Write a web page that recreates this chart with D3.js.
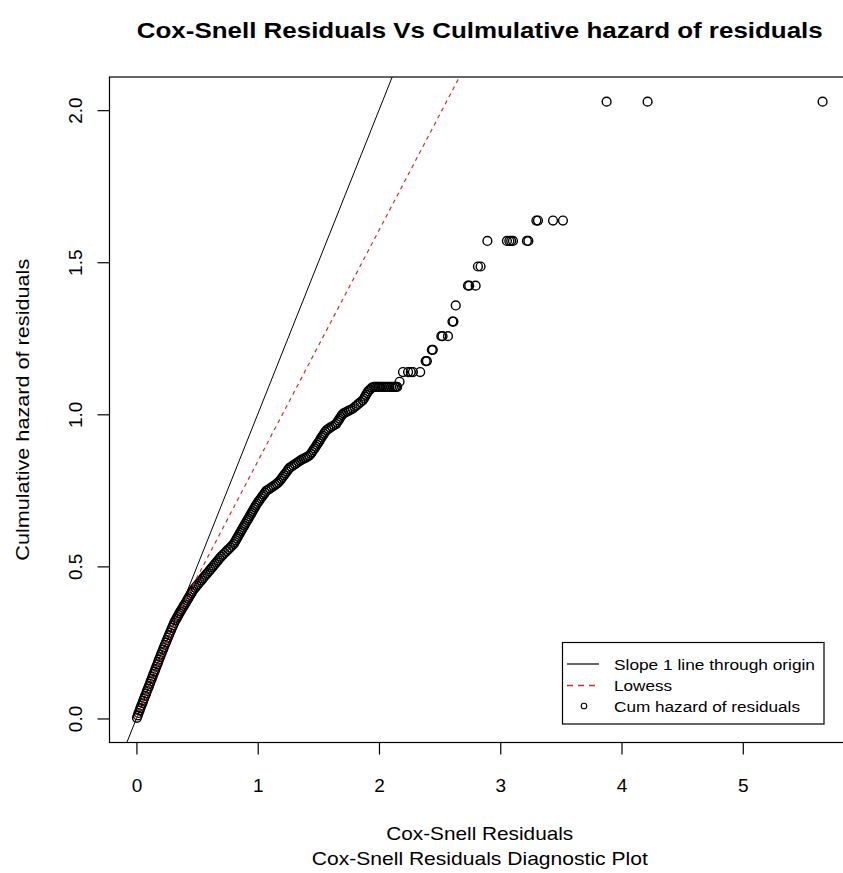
<!DOCTYPE html>
<html>
<head>
<meta charset="utf-8">
<script src="https://cdn.jsdelivr.net/npm/d3@7"></script>
<style>
  body { margin: 0; background: #fff; }
  text { font-family: "Liberation Sans", Arial, sans-serif; fill: #000; }
</style>
</head>
<body>
<div id="chart"></div>
<script>
// DATA
var coxSnell = [
  0.004,0.011,0.017,0.026,0.032,0.040,0.049,0.055,0.063,0.071,
  0.080,0.086,0.094,0.103,0.110,0.117,0.126,0.133,0.140,0.149,
  0.156,0.163,0.172,0.179,0.186,0.195,0.202,0.210,0.219,0.226,
  0.234,0.243,0.251,0.259,0.268,0.276,0.285,0.293,0.302,0.311,
  0.320,
  0.330,0.338,0.346,0.354,0.363,0.372,0.381,0.390,0.399,0.408,
  0.417,0.426,0.435,0.444,0.453,0.462,0.472,0.485,0.497,0.509,
  0.522,0.535,0.547,0.559,0.572,0.585,0.598,0.610,0.623,0.635,
  0.648,0.660,0.673,0.685,0.698,0.713,0.728,0.743,0.758,0.773,
  0.788,0.802,0.811,0.820,0.828,0.837,0.845,0.854,0.862,0.871,
  0.880,0.889,0.897,0.906,0.915,0.924,0.932,0.941,0.950,0.958,
  0.967,0.976,0.984,0.993,
  1.004,1.015,1.026,1.037,1.048,1.059,1.070,1.085,1.100,1.115,
  1.130,1.145,1.158,1.170,1.183,1.195,1.206,1.217,1.229,1.240,
  1.251,1.262,1.278,1.293,1.308,1.322,1.336,1.350,1.364,1.379,
  1.393,1.408,1.424,1.438,1.448,1.458,1.468,1.478,1.488,1.498,
  1.509,1.516,1.526,1.536,1.546,1.556,1.568,1.583,1.598,1.614,
  1.630,1.646,1.656,1.666,1.675,1.685,1.695,1.708,1.722,1.737,
  1.752,1.766,1.784,1.800,1.815,1.830,1.848,1.866,1.876,1.885,
  1.893,1.902,1.912,1.927,1.942,1.960,1.972,1.985,1.997,2.010,
  2.025,2.040,2.055,2.070,2.085,2.100,2.115,2.130,2.140,2.150,
  2.170,2.198,2.240,2.262,2.280,2.340,2.385,2.395,2.436,2.444,
  2.514,2.524,2.569,2.606,2.614,2.633,2.734,2.744,2.797,2.816,
  2.838,2.894,3.055,3.075,3.090,3.105,3.220,3.232,3.298,3.311,
  3.435,3.517,3.877,4.215,5.658
];
var cumHaz = [
  0.002,0.010,0.018,0.026,0.034,0.042,0.050,0.058,0.066,0.074,
  0.082,0.090,0.098,0.106,0.114,0.122,0.130,0.138,0.146,0.154,
  0.162,0.170,0.178,0.186,0.194,0.202,0.210,0.218,0.226,0.234,
  0.242,0.250,0.258,0.266,0.274,0.282,0.290,0.298,0.306,0.314,
  0.322,
  0.328,0.334,0.340,0.346,0.352,0.358,0.364,0.370,0.376,0.382,
  0.388,0.394,0.400,0.406,0.412,0.418,0.424,0.430,0.436,0.442,
  0.448,0.454,0.460,0.466,0.472,0.478,0.484,0.490,0.496,0.502,
  0.508,0.514,0.520,0.526,0.532,0.538,0.544,0.550,0.556,0.562,
  0.568,0.574,0.580,0.586,0.592,0.598,0.604,0.610,0.616,0.622,
  0.628,0.634,0.640,0.646,0.652,0.658,0.664,0.670,0.676,0.682,
  0.688,0.694,0.700,0.706,
  0.712,0.718,0.724,0.730,0.736,0.742,0.748,0.752,0.756,0.760,
  0.764,0.768,0.772,0.776,0.782,0.788,0.794,0.800,0.806,0.812,
  0.818,0.824,0.828,0.832,0.836,0.840,0.844,0.848,0.851,0.854,
  0.857,0.860,0.864,0.870,0.876,0.882,0.888,0.894,0.900,0.906,
  0.912,0.918,0.924,0.930,0.936,0.942,0.948,0.952,0.956,0.960,
  0.964,0.968,0.974,0.980,0.986,0.992,0.998,1.003,1.006,1.009,
  1.012,1.015,1.019,1.024,1.029,1.034,1.040,1.046,1.052,1.058,
  1.064,1.070,1.076,1.082,1.088,1.090,1.090,1.090,1.090,1.090,
  1.090,1.090,1.090,1.090,1.090,1.090,1.090,1.090,1.090,1.090,
  1.107,1.139,1.139,1.139,1.139,1.139,1.175,1.175,1.212,1.212,
  1.257,1.257,1.257,1.305,1.305,1.358,1.423,1.423,1.423,1.486,
  1.486,1.570,1.570,1.570,1.570,1.570,1.570,1.570,1.637,1.637,
  1.637,1.637,2.028,2.028,2.028
];

// lowess curve (red dashed)
var lowessX = [0, 0.1, 0.2, 0.3, 0.37, 0.6, 1.0, 1.5, 2.0, 2.5, 2.75];
var lowessY = [0, 0.1, 0.2, 0.3, 0.365, 0.54, 0.845, 1.225, 1.605, 1.985, 2.175];

var xTicks = [0, 1, 2, 3, 4, 5];
var yTicks = [0, 0.5, 1.0, 1.5, 2.0];

var legendLabels = ["Slope 1 line through origin", "Lowess", "Cum hazard of residuals"];

// LAYOUT
var width = 843, height = 873;
var plotLeft = 109.5, plotRight = 850, plotTop = 77, plotBottom = 742.5;
var tickLen = 12;
var pointR = 4.4;
var lowessColor = "#d42a2a";

var svg = d3.select("#chart").append("svg")
  .attr("width", width)
  .attr("height", height);

// R style 4% extension of the data range
function padRange(vals) {
  var e = d3.extent(vals);
  var p = (e[1] - e[0]) * 0.04;
  return [e[0] - p, e[1] + p];
}

var x = d3.scaleLinear().domain(padRange(coxSnell)).range([plotLeft, plotRight]);
var y = d3.scaleLinear().domain(padRange(cumHaz)).range([plotBottom, plotTop]);

svg.append("clipPath").attr("id", "plotclip")
  .append("rect")
  .attr("x", plotLeft).attr("y", plotTop)
  .attr("width", plotRight - plotLeft).attr("height", plotBottom - plotTop);

/* points */
var pts = coxSnell.map(function(d, i) { return { x: d, y: cumHaz[i] }; });

svg.append("g")
  .selectAll("circle")
  .data(pts)
  .enter()
  .append("circle")
  .attr("cx", function(d) { return x(d.x); })
  .attr("cy", function(d) { return y(d.y); })
  .attr("r", pointR)
  .attr("fill", "none")
  .attr("stroke", "#000")
  .attr("stroke-width", 1.4);

/* lines, clipped to the plot region */
var lines = svg.append("g").attr("clip-path", "url(#plotclip)");

var yd = y.domain();
lines.append("line")
  .attr("x1", x(yd[0])).attr("y1", y(yd[0]))
  .attr("x2", x(yd[1])).attr("y2", y(yd[1]))
  .attr("stroke", "#000")
  .attr("stroke-width", 1);

var lowessLine = d3.line()
  .x(function(d) { return x(d[0]); })
  .y(function(d) { return y(d[1]); });

lines.append("path")
  .datum(lowessX.map(function(d, i) { return [d, lowessY[i]]; }))
  .attr("d", lowessLine)
  .attr("fill", "none")
  .attr("stroke", lowessColor)
  .attr("stroke-width", 1.2)
  .attr("stroke-dasharray", "4,4");

/* box */
svg.append("rect")
  .attr("x", plotLeft).attr("y", plotTop)
  .attr("width", plotRight - plotLeft).attr("height", plotBottom - plotTop)
  .attr("fill", "none")
  .attr("stroke", "#000")
  .attr("stroke-width", 1.2);

/* axes */
var xAxis = svg.append("g")
  .attr("transform", "translate(0," + plotBottom + ")")
  .call(d3.axisBottom(x).tickValues(xTicks).tickSize(tickLen).tickSizeOuter(0).tickFormat(d3.format("d")));
xAxis.select(".domain").remove();
xAxis.selectAll("line").attr("stroke", "#000").attr("stroke-width", 1.2);
xAxis.selectAll("text")
  .attr("y", 49.5).attr("dy", null)
  .style("font-size", "19px")
  .style("font-family", "'Liberation Sans', Arial, sans-serif")
  .attr("fill", "#000");

var yAxis = svg.append("g")
  .attr("transform", "translate(" + plotLeft + ",0)")
  .call(d3.axisLeft(y).tickValues(yTicks).tickSize(tickLen).tickSizeOuter(0).tickFormat(d3.format(".1f")));
yAxis.select(".domain").remove();
yAxis.selectAll("line").attr("stroke", "#000").attr("stroke-width", 1.2);
yAxis.selectAll("text")
  .attr("x", null).attr("dy", null)
  .attr("transform", "translate(-28,0) rotate(-90)")
  .attr("text-anchor", "middle")
  .style("font-size", "19px")
  .style("font-family", "'Liberation Sans', Arial, sans-serif")
  .attr("fill", "#000");

/* titles */
var midX = (plotLeft + plotRight) / 2;

svg.append("text")
  .attr("x", midX).attr("y", 38)
  .attr("text-anchor", "middle")
  .attr("textLength", 686).attr("lengthAdjust", "spacingAndGlyphs")
  .style("font-size", "22px").style("font-weight", "bold")
  .text("Cox-Snell Residuals Vs Culmulative hazard of residuals");

svg.append("text")
  .attr("x", midX).attr("y", 840)
  .attr("text-anchor", "middle")
  .attr("textLength", 187).attr("lengthAdjust", "spacingAndGlyphs")
  .style("font-size", "19px")
  .text("Cox-Snell Residuals");

svg.append("text")
  .attr("x", midX).attr("y", 865)
  .attr("text-anchor", "middle")
  .attr("textLength", 336).attr("lengthAdjust", "spacingAndGlyphs")
  .style("font-size", "19px")
  .text("Cox-Snell Residuals Diagnostic Plot");

svg.append("text")
  .attr("transform", "translate(29," + ((plotTop + plotBottom) / 2) + ") rotate(-90)")
  .attr("text-anchor", "middle")
  .attr("textLength", 302).attr("lengthAdjust", "spacingAndGlyphs")
  .style("font-size", "19px")
  .text("Culmulative hazard of residuals");

/* legend */
var lgX = 562.5, lgY = 642.5, lgW = 261.5, lgH = 81.5;
var rowY = [664, 685.5, 706];
var lgWidths = [201, 58, 186];

var legend = svg.append("g");
legend.append("rect")
  .attr("x", lgX).attr("y", lgY).attr("width", lgW).attr("height", lgH)
  .attr("fill", "#fff").attr("stroke", "#000").attr("stroke-width", 1.2);

legend.append("line")
  .attr("x1", 567).attr("x2", 599).attr("y1", rowY[0]).attr("y2", rowY[0])
  .attr("stroke", "#000").attr("stroke-width", 1.2);
legend.append("line")
  .attr("x1", 567).attr("x2", 599).attr("y1", rowY[1]).attr("y2", rowY[1])
  .attr("stroke", lowessColor).attr("stroke-width", 1.3).attr("stroke-dasharray", "6,5");
legend.append("circle")
  .attr("cx", 584).attr("cy", rowY[2]).attr("r", 2.8)
  .attr("fill", "none").attr("stroke", "#000").attr("stroke-width", 1.1);

legend.selectAll("text.lg")
  .data(legendLabels)
  .enter()
  .append("text")
  .attr("class", "lg")
  .attr("x", 614)
  .attr("y", function(d, i) { return rowY[i] + 5.5; })
  .attr("textLength", function(d, i) { return lgWidths[i]; })
  .attr("lengthAdjust", "spacingAndGlyphs")
  .style("font-size", "15.5px")
  .text(function(d) { return d; });
</script>
</body>
</html>
